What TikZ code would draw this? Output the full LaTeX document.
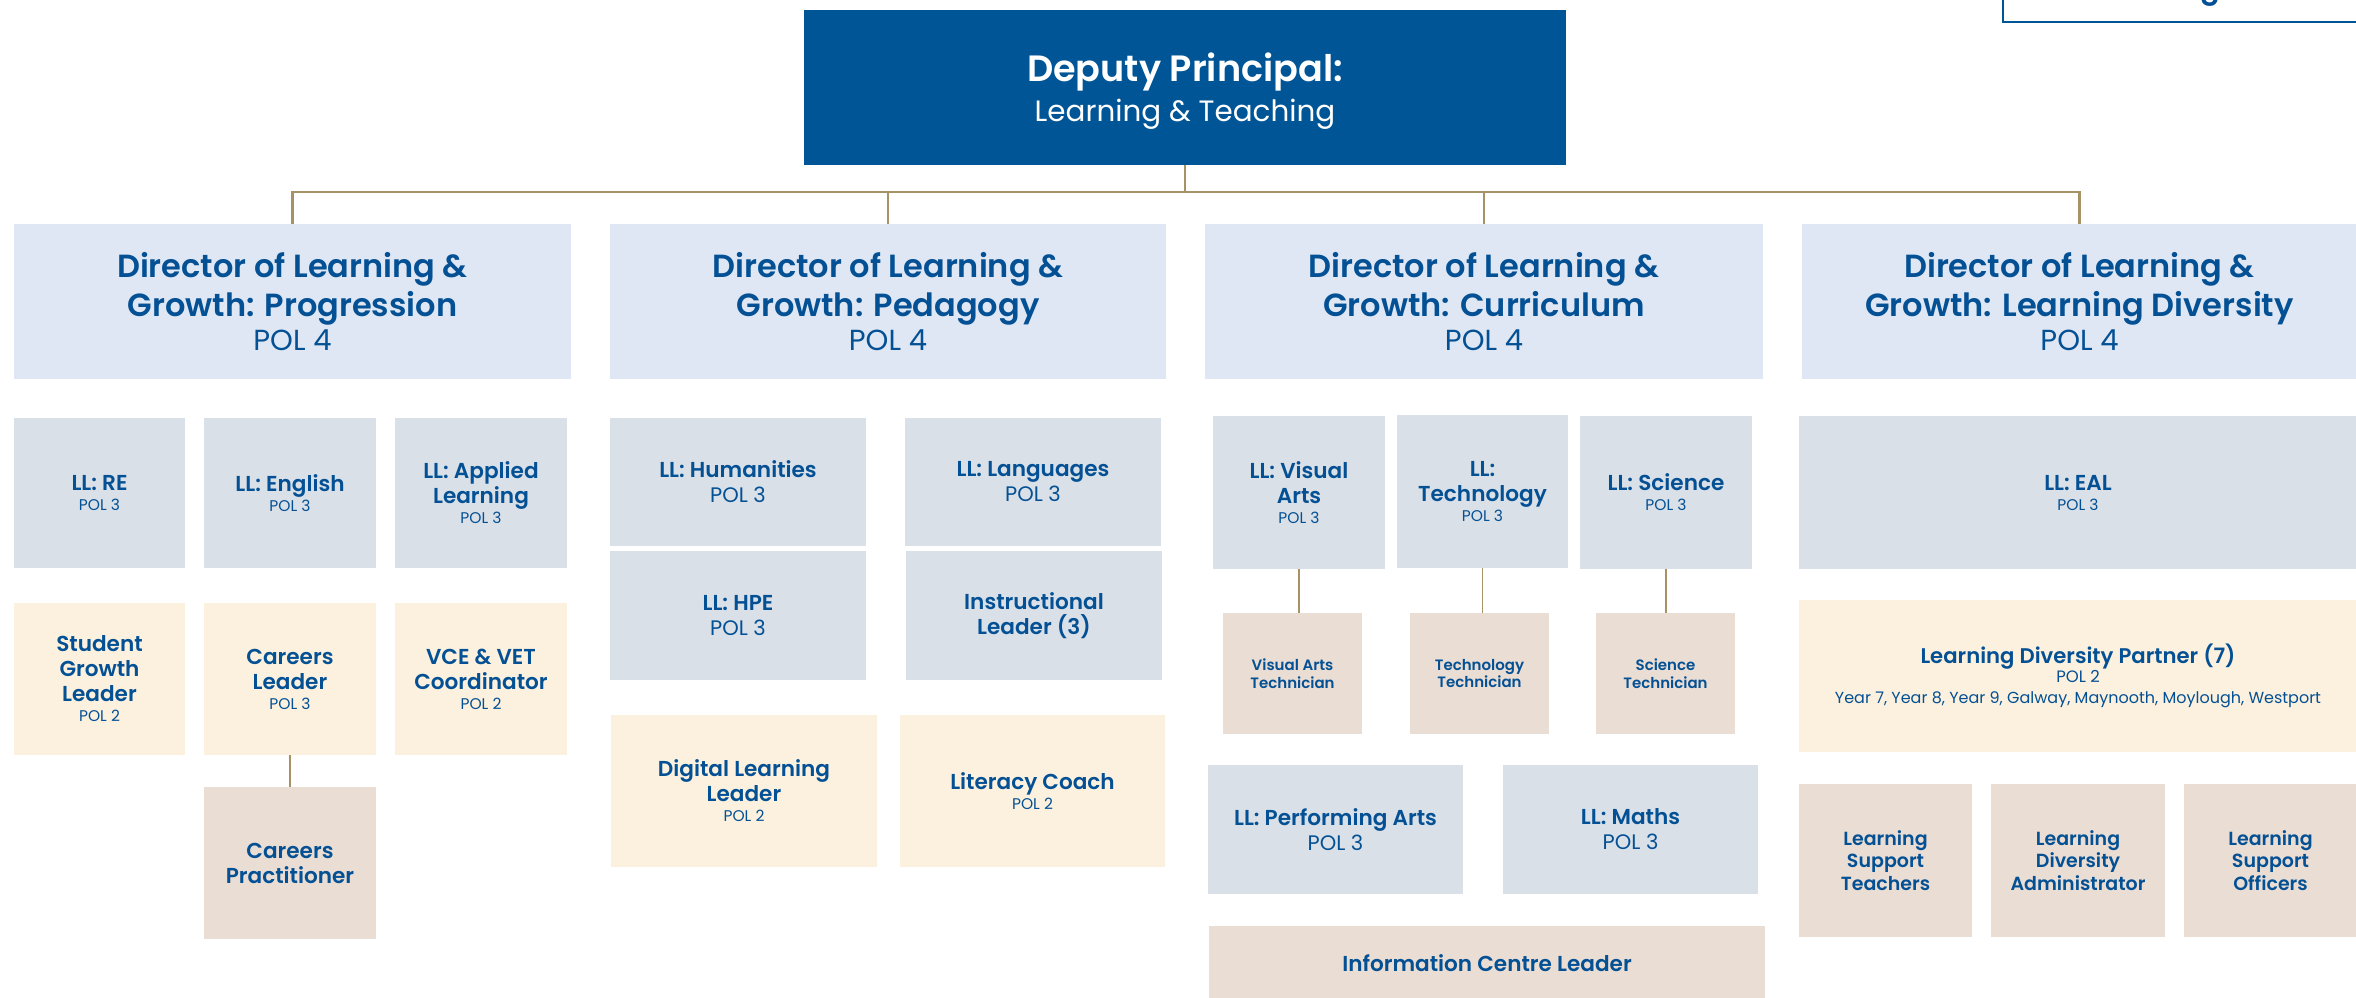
\documentclass[tikz,border=0pt]{standalone}
\usepackage{fontspec}
\setmainfont{Poppins}[BoldFont={Poppins SemiBold}]
\definecolor{dpblue}{RGB}{0,85,150}
\definecolor{txtblue}{RGB}{4,80,148}
\definecolor{dirfill}{RGB}{222,231,243}
\definecolor{llfill}{RGB}{217,224,231}
\definecolor{creamfill}{RGB}{252,241,222}
\definecolor{tanfill}{RGB}{234,221,211}
\definecolor{linecol}{RGB}{166,146,100}
\newcommand\bx[7]{\node[#6, minimum width={(#4-#2)*0.5pt}, minimum height={(#5-#3)*0.5pt}] (#1) at ({(#2+#4)/2},{(#3+#5)/2}) {#7};}
\newcommand\pols[1]{{\mdseries\fontsize{7.75}{9.5}\selectfont #1}}
\newcommand\polb[1]{{\mdseries\fontsize{10.5}{12.5}\selectfont #1}}
\newcommand\polf[1]{{\mdseries\fontsize{14.5}{17}\selectfont #1}}
\tikzset{
  base/.style={inner sep=0pt, outer sep=0pt, align=center, text=txtblue},
  depbox/.style={base, fill=dpblue},
  deptext/.style={base, text=white, font=\fontsize{18.3}{20.3}\selectfont\bfseries},
  dirbox/.style={base, fill=dirfill, font=\fontsize{16}{19.5}\selectfont\bfseries},
  llbox/.style={base, fill=llfill, font=\fontsize{10.8}{12.5}\selectfont\bfseries},
  creambox/.style={base, fill=creamfill, font=\fontsize{10.8}{12.5}\selectfont\bfseries},
  tanbox/.style={base, fill=tanfill, font=\fontsize{10.8}{12.5}\selectfont\bfseries},
  techbox/.style={base, fill=tanfill, font=\fontsize{7.5}{8.85}\selectfont\bfseries},
  lsbox/.style={base, fill=tanfill, font=\fontsize{9.5}{11.3}\selectfont\bfseries},
  conn/.style={draw=linecol, line width=0.75pt},
  busline/.style={draw=linecol, line width=1.1pt},
}
\begin{document}
\begin{tikzpicture}[x=0.5pt,y=-0.5pt]
\clip (0,0) rectangle (2356,997);
\fill[white] (0,0) rectangle (2356,997);
% top-right partial box
\node[base, draw=dpblue, line width=1.25pt, fill=white, minimum width={(2362-2003)*0.5pt}, minimum height={(22+80)*0.5pt}] (tr) at ({(2003+2362)/2},{(22-80)/2}) {};
\node[base, anchor=base, font=\fontsize{14.5}{17}\selectfont\bfseries, text=txtblue] (trg) at (2210,-2) {g};
% deputy
\bx{dep}{804}{10}{1566}{165}{depbox}{}
\node[deptext] (dept) at ([yshift=-1.8pt]dep.center) {Deputy Principal:\\{\mdseries\fontsize{14.7}{17}\selectfont Learning \& Teaching}};
% directors
\bx{d1}{14}{224}{571}{379}{dirbox}{Director of Learning \&\\Growth: Progression\\[-2.2pt]\polf{POL 4}}
\bx{d2}{610}{224}{1166}{379}{dirbox}{Director of Learning \&\\Growth: Pedagogy\\[-2.2pt]\polf{POL 4}}
\bx{d3}{1205}{224}{1763}{379}{dirbox}{Director of Learning \&\\Growth: Curriculum\\[-2.2pt]\polf{POL 4}}
\bx{d4}{1802}{224}{2357}{379}{dirbox}{Director of Learning \&\\Growth: Learning Diversity\\[-2.2pt]\polf{POL 4}}
% column 1
\bx{re}{14}{418}{185}{568}{llbox}{LL: RE\\[-2.5pt]\pols{POL 3}}
\bx{eng}{204}{418}{376}{568}{llbox}{LL: English\\[-2.5pt]\pols{POL 3}}
\bx{app}{395}{418}{567}{568}{llbox}{LL: Applied\\Learning\\[-2.5pt]\pols{POL 3}}
\bx{sgl}{14}{603}{185}{755}{creambox}{Student\\Growth\\Leader\\[-2.5pt]\pols{POL 2}}
\bx{cl}{204}{603}{376}{755}{creambox}{Careers\\Leader\\[-2.5pt]\pols{POL 3}}
\bx{vce}{395}{603}{567}{755}{creambox}{VCE \& VET\\Coordinator\\[-2.5pt]\pols{POL 2}}
\bx{cp}{204}{787}{376}{939}{tanbox}{Careers\\Practitioner}
% column 2
\bx{hum}{610}{418}{866}{546}{llbox}{LL: Humanities\\\polb{POL 3}}
\bx{lang}{905}{418}{1161}{546}{llbox}{LL: Languages\\\polb{POL 3}}
\bx{hpe}{610}{551}{866}{680}{llbox}{LL: HPE\\\polb{POL 3}}
\bx{instr}{906}{551}{1162}{680}{llbox}{Instructional\\Leader (3)}
\bx{dll}{611}{715}{877}{867}{creambox}{Digital Learning\\Leader\\[-2.5pt]\pols{POL 2}}
\bx{lc}{900}{715}{1165}{867}{creambox}{Literacy Coach\\[-2.5pt]\pols{POL 2}}
% column 3
\bx{va}{1213}{416}{1385}{569}{llbox}{LL: Visual\\Arts\\[-2.5pt]\pols{POL 3}}
\bx{tech}{1397}{415}{1568}{568}{llbox}{LL:\\Technology\\[-2.5pt]\pols{POL 3}}
\bx{sci}{1580}{416}{1752}{569}{llbox}{LL: Science\\[-2.5pt]\pols{POL 3}}
\bx{vat}{1223}{613}{1362}{734}{techbox}{Visual Arts\\Technician}
\bx{tt}{1410}{613}{1549}{734}{techbox}{Technology\\Technician}
\bx{st}{1596}{613}{1735}{734}{techbox}{Science\\Technician}
\bx{pa}{1208}{765}{1463}{894}{llbox}{LL: Performing Arts\\\polb{POL 3}}
\bx{maths}{1503}{765}{1758}{894}{llbox}{LL: Maths\\\polb{POL 3}}
\bx{icl}{1209}{926}{1765}{1000}{tanbox}{Information Centre Leader}
% column 4
\bx{eal}{1799}{416}{2357}{569}{llbox}{LL: EAL\\[-2.5pt]\pols{POL 3}}
\bx{ldp}{1799}{600}{2357}{752}{creambox}{{\fontsize{10.6}{13}\selectfont Learning Diversity Partner (7)}\\[-3pt]{\mdseries\fontsize{8.25}{10}\selectfont POL 2}\\[-2pt]{\mdseries\fontsize{8}{10.5}\selectfont Year 7, Year 8, Year 9, Galway, Maynooth, Moylough, Westport}}
\bx{lst}{1799}{784}{1972}{937}{lsbox}{Learning\\Support\\Teachers}
\bx{lda}{1991}{784}{2165}{937}{lsbox}{Learning\\Diversity\\Administrator}
\bx{lso}{2184}{784}{2357}{937}{lsbox}{Learning\\Support\\Officers}
% connectors
\coordinate (bus) at (0,192);
\draw[busline] (d1.north) -- (d1.north |- bus) -- (d4.north |- bus) -- (d4.north);
\draw[conn] (dep.south) -- (dep.south |- bus);
\draw[conn] (d2.north) -- (d2.north |- bus);
\draw[conn] (d3.north) -- (d3.north |- bus);
\draw[conn] (cl.south) -- (cp.north);
\draw[conn] (va.south) -- (va.south |- vat.north);
\draw[conn] (tech.south) -- (tech.south |- tt.north);
\draw[conn] (sci.south) -- (sci.south |- st.north);
\end{tikzpicture}
\end{document}
